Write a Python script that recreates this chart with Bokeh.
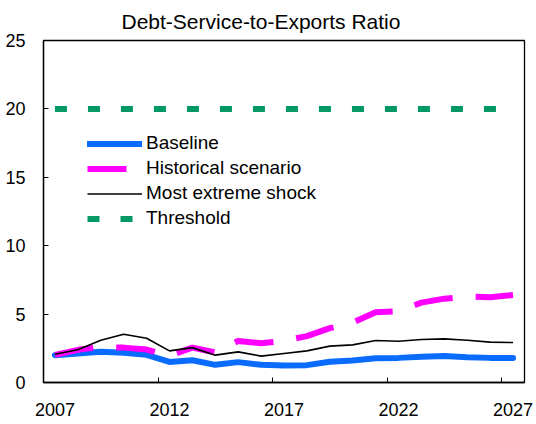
from bokeh.plotting import figure
from bokeh.models import Range1d, FixedTicker, Legend, LegendItem
from bokeh.embed import file_html
from bokeh.resources import INLINE

years = [2007, 2008, 2009, 2010, 2011, 2012, 2013, 2014, 2015, 2016, 2017,
         2018, 2019, 2020, 2021, 2022, 2023, 2024, 2025, 2026, 2027]
baseline = [2.00, 2.12, 2.24, 2.17, 2.02, 1.50, 1.63, 1.29, 1.49, 1.29, 1.24,
            1.27, 1.51, 1.61, 1.78, 1.80, 1.88, 1.93, 1.85, 1.80, 1.80]
historical = [2.02, 2.39, 2.60, 2.55, 2.41, 1.95, 2.55, 2.20, 3.04, 2.87, 3.05,
              3.39, 3.97, 4.38, 5.14, 5.20, 5.84, 6.13, 6.28, 6.23, 6.40]
extreme = [2.07, 2.39, 3.09, 3.53, 3.24, 2.31, 2.55, 2.00, 2.24, 1.93, 2.12,
           2.31, 2.66, 2.75, 3.07, 3.02, 3.14, 3.19, 3.09, 2.95, 2.92]
threshold = [20, 20, 20, 20, 20, 20, 20, 20, 20, 20, 20,
             20, 20, 20, 20, 20, 20, 20, 20, 20, 20]

x_labels = [2007, 2012, 2017, 2022, 2027]
x_boundaries = [2006.5, 2011.5, 2016.5, 2021.5, 2026.5]
y_ticks = [0, 5, 10, 15, 20, 25]

FONT = "Liberation Sans"

p = figure(width=536, height=424, output_backend="svg", toolbar_location=None,
           x_range=Range1d(2006.5, 2027.5), y_range=Range1d(0, 25),
           min_border_left=43, min_border_right=12, min_border_top=39,
           min_border_bottom=42, title="Debt-Service-to-Exports Ratio")

p.title.text_font = FONT
p.title.text_font_size = "21px"
p.title.text_font_style = "normal"
p.title.text_color = "black"
p.title.align = "left"
p.title.offset = 78
p.title.standoff = 15

p.grid.visible = False
p.outline_line_color = "black"
p.outline_line_width = 1.3
p.background_fill_color = "white"
p.border_fill_color = "white"

p.xaxis.ticker = FixedTicker(ticks=x_labels, minor_ticks=x_boundaries)
p.xaxis.major_tick_in = 0
p.xaxis.major_tick_out = 0
p.xaxis.minor_tick_in = 5
p.xaxis.minor_tick_out = 0
p.xaxis.minor_tick_line_color = "black"
p.xaxis.major_label_standoff = 20

p.yaxis.ticker = FixedTicker(ticks=y_ticks)
p.yaxis.major_tick_in = 5
p.yaxis.major_tick_out = 0
p.yaxis.minor_tick_line_color = None
p.yaxis.major_label_standoff = 18

for ax in (p.xaxis, p.yaxis):
    ax.axis_line_color = "black"
    ax.axis_line_width = 1.3
    ax.major_tick_line_color = "black"
    ax.major_label_text_font = FONT
    ax.major_label_text_font_size = "18px"
    ax.major_label_text_color = "black"

r_base = p.line(years, baseline, line_color="#0A6CFF", line_width=6, line_cap="round")
r_hist = p.line(years, historical, line_color="#FF00FF", line_width=6, line_dash="39 23")
r_ext = p.line(years, extreme, line_color="black", line_width=1.6)
r_thr = p.line(years, threshold, line_color="#009966", line_width=6, line_dash="12 21")

legend = Legend(items=[
    LegendItem(label="Baseline", renderers=[r_base]),
    LegendItem(label="Historical scenario", renderers=[r_hist]),
    LegendItem(label="Most extreme shock", renderers=[r_ext]),
    LegendItem(label="Threshold", renderers=[r_thr]),
], location=(44, 151.5), padding=0, margin=0, spacing=0,
    glyph_width=55, glyph_height=25, label_height=25, label_standoff=4,
    border_line_color=None, background_fill_alpha=0,
    label_text_font=FONT, label_text_font_size="19px", label_text_color="black")
p.add_layout(legend)

open("out.html", "w").write(file_html(p, INLINE))
